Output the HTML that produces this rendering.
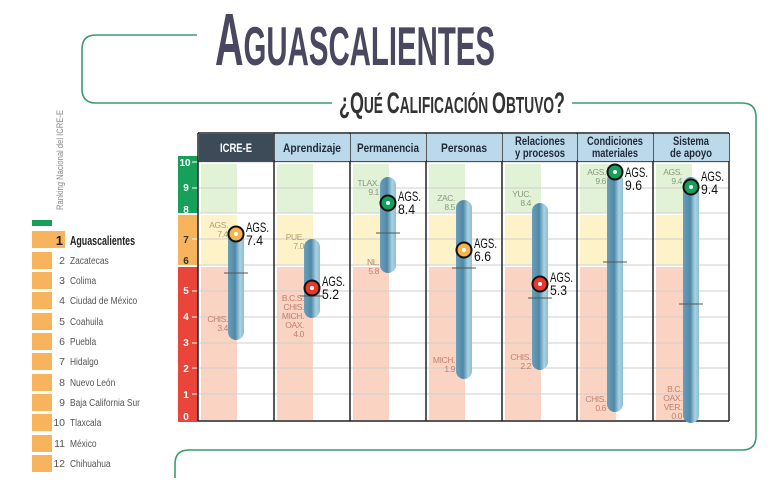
<!DOCTYPE html>
<html><head><meta charset="utf-8"><style>
html,body{margin:0;padding:0;background:#fff;}
svg{display:block;font-family:"Liberation Sans Narrow","Liberation Sans",sans-serif;}
</style></head><body>
<svg width="775" height="494" viewBox="0 0 775 494" xmlns="http://www.w3.org/2000/svg">
<defs>
<linearGradient id="bar" x1="0" x2="1" y1="0" y2="0">
<stop offset="0" stop-color="#6a9fba"/><stop offset="0.45" stop-color="#4f89a8"/><stop offset="0.75" stop-color="#a9d2e2"/><stop offset="1" stop-color="#8dbdd3"/>
</linearGradient>
</defs>
<path d="M197 35 H96 Q82 35 82 49 V89 Q82 103 96 103 H332" fill="none" stroke="#3a9c6a" stroke-width="1.6"/>
<path d="M572 103 H742 Q756 103 756 117 V436 Q756 450 742 450 H189 Q175 450 175 464 V478" fill="none" stroke="#3a9c6a" stroke-width="1.6"/>
<text x="215" y="65" fill="#4a4860" font-weight="bold" textLength="280" lengthAdjust="spacingAndGlyphs"><tspan font-size="74">A</tspan><tspan font-size="55">GUASCALIENTES</tspan></text>
<text x="339" y="113" fill="#333" font-weight="bold" textLength="226" lengthAdjust="spacingAndGlyphs"><tspan font-size="30">¿Q</tspan><tspan font-size="23">UÉ </tspan><tspan font-size="30">C</tspan><tspan font-size="23">ALIFICACIÓN </tspan><tspan font-size="30">O</tspan><tspan font-size="23">BTUVO</tspan><tspan font-size="30">?</tspan></text>
<text transform="translate(63,210) rotate(-90)" font-size="9" fill="#888" textLength="100" lengthAdjust="spacingAndGlyphs">Ranking Nacional del ICRE-E</text>
<rect x="32" y="220" width="20" height="6" fill="#17a05a"/>
<rect x="32" y="231" width="33" height="17" fill="#f7b45c"/>
<text x="63" y="245" font-size="13" font-weight="bold" text-anchor="end" fill="#222">1</text>
<text x="70" y="245" font-size="13" font-weight="bold" fill="#222" textLength="65" lengthAdjust="spacingAndGlyphs">Aguascalientes</text>
<g fill="#f7b45c">
<rect x="32" y="252" width="20" height="17"/><rect x="32" y="272" width="20" height="17"/><rect x="32" y="292" width="20" height="17"/><rect x="32" y="313" width="20" height="17"/><rect x="32" y="333" width="20" height="17"/><rect x="32" y="353" width="20" height="17"/><rect x="32" y="374" width="20" height="17"/><rect x="32" y="394" width="20" height="17"/><rect x="32" y="414" width="20" height="17"/><rect x="32" y="435" width="20" height="17"/><rect x="32" y="455" width="20" height="17"/>
</g>
<g font-size="10.5" fill="#555" text-anchor="end">
<text x="65" y="264">2</text><text x="65" y="284">3</text><text x="65" y="304">4</text><text x="65" y="325">5</text><text x="65" y="345">6</text><text x="65" y="365">7</text><text x="65" y="386">8</text><text x="65" y="406">9</text><text x="65" y="426">10</text><text x="65" y="447">11</text><text x="65" y="467">12</text>
</g>
<g font-size="10.5" fill="#555" transform="translate(70,0) scale(0.8,1)">
<text x="0" y="264">Zacatecas</text><text x="0" y="284">Colima</text><text x="0" y="304">Ciudad de México</text><text x="0" y="325">Coahuila</text><text x="0" y="345">Puebla</text><text x="0" y="365">Hidalgo</text><text x="0" y="386">Nuevo León</text><text x="0" y="406">Baja California Sur</text><text x="0" y="426">Tlaxcala</text><text x="0" y="447">México</text><text x="0" y="467">Chihuahua</text>
</g>
<rect x="178" y="156" width="20" height="57" fill="#17a05a"/>
<rect x="178" y="215" width="20" height="50" fill="#f7b45c"/>
<rect x="178" y="267" width="20" height="155" fill="#e9453a"/>
<g font-size="10" font-weight="bold" text-anchor="middle">
<text x="185" y="166" fill="#fff">10</text><text x="186" y="191" fill="#fff">9</text><text x="186" y="213" fill="#fff">8</text>
<text x="186" y="243" fill="#333">7</text><text x="186" y="264" fill="#333">6</text>
<text x="186" y="294" fill="#fff">5</text><text x="186" y="320" fill="#fff">4</text><text x="186" y="346" fill="#fff">3</text><text x="186" y="372" fill="#fff">2</text><text x="186" y="398" fill="#fff">1</text><text x="186" y="420" fill="#fff">0</text>
</g>
<g stroke="#fff" stroke-width="1"><line x1="192" x2="198" y1="162" y2="162"/><line x1="192" x2="198" y1="188" y2="188"/><line x1="192" x2="198" y1="239" y2="239"/><line x1="192" x2="198" y1="291" y2="291"/><line x1="192" x2="198" y1="317" y2="317"/><line x1="192" x2="198" y1="343" y2="343"/><line x1="192" x2="198" y1="368" y2="368"/><line x1="192" x2="198" y1="394" y2="394"/></g>
<g>
<g id="bands">
<rect x="201" y="164" width="36" height="49" fill="#e2f2d6"/>
<rect x="201" y="215" width="36" height="50" fill="#fdf2c8"/>
<rect x="201" y="267" width="36" height="153" fill="#fbd3c3"/>
</g>
<use href="#bands" x="76"/><use href="#bands" x="152"/><use href="#bands" x="228"/><use href="#bands" x="304"/><use href="#bands" x="379"/><use href="#bands" x="455"/>
</g>
<g stroke="#cfcfcf" stroke-width="1">
<line x1="198" x2="729" y1="162" y2="162"/><line x1="198" x2="729" y1="188" y2="188"/><line x1="198" x2="729" y1="213" y2="213"/><line x1="198" x2="729" y1="239" y2="239"/><line x1="198" x2="729" y1="265" y2="265"/><line x1="198" x2="729" y1="291" y2="291"/><line x1="198" x2="729" y1="317" y2="317"/><line x1="198" x2="729" y1="343" y2="343"/><line x1="198" x2="729" y1="368" y2="368"/><line x1="198" x2="729" y1="394" y2="394"/>
</g>
<g stroke="#222" stroke-width="1.5">
<line x1="198" y1="133" x2="198" y2="421"/><line x1="274" y1="133" x2="274" y2="421"/><line x1="350" y1="133" x2="350" y2="421"/><line x1="426" y1="133" x2="426" y2="421"/><line x1="502" y1="133" x2="502" y2="421"/><line x1="577" y1="133" x2="577" y2="421"/><line x1="653" y1="133" x2="653" y2="421"/><line x1="729" y1="133" x2="729" y2="421"/>
<line x1="198" y1="421" x2="729" y2="421"/><line x1="198" y1="133" x2="729" y2="133"/><line x1="198" y1="161" x2="729" y2="161"/>
</g>
<rect x="199" y="134" width="75" height="27" fill="#3d4a57"/>
<g fill="#bcd9ec"><rect x="275" y="134" width="75" height="27"/><rect x="351" y="134" width="75" height="27"/><rect x="427" y="134" width="75" height="27"/><rect x="503" y="134" width="74" height="27"/><rect x="578" y="134" width="75" height="27"/><rect x="654" y="134" width="75" height="27"/></g>
<g font-size="11.5" font-weight="bold" text-anchor="middle" fill="#1e2a36">
<text x="236" y="152" fill="#fff" textLength="32" lengthAdjust="spacingAndGlyphs">ICRE-E</text>
<text x="312" y="152" textLength="58" lengthAdjust="spacingAndGlyphs">Aprendizaje</text>
<text x="388" y="152" textLength="62" lengthAdjust="spacingAndGlyphs">Permanencia</text>
<text x="464" y="152" textLength="46" lengthAdjust="spacingAndGlyphs">Personas</text>
<text x="540" y="145" textLength="50" lengthAdjust="spacingAndGlyphs">Relaciones</text><text x="540" y="157" textLength="50" lengthAdjust="spacingAndGlyphs">y procesos</text>
<text x="615" y="145" textLength="56" lengthAdjust="spacingAndGlyphs">Condiciones</text><text x="615" y="157" textLength="46" lengthAdjust="spacingAndGlyphs">materiales</text>
<text x="691" y="145" textLength="36" lengthAdjust="spacingAndGlyphs">Sistema</text><text x="691" y="157" textLength="42" lengthAdjust="spacingAndGlyphs">de apoyo</text>
</g>
<g fill="url(#bar)">
<rect x="228" y="229" width="16" height="111" rx="8"/>
<rect x="304" y="239" width="16" height="79" rx="8"/>
<rect x="380" y="177" width="16" height="96" rx="8"/>
<rect x="456" y="200" width="16" height="179" rx="8"/>
<rect x="532" y="203" width="16" height="167" rx="8"/>
<rect x="607" y="172" width="16" height="240" rx="8"/>
<rect x="683" y="177" width="16" height="246" rx="8"/>
</g>
<g stroke="#555" stroke-width="1">
<line x1="224" x2="248" y1="273" y2="273"/><line x1="300" x2="324" y1="296" y2="296"/><line x1="376" x2="400" y1="233" y2="233"/><line x1="452" x2="476" y1="268" y2="268"/><line x1="528" x2="552" y1="298" y2="298"/><line x1="603" x2="627" y1="262" y2="262"/><line x1="679" x2="703" y1="304" y2="304"/>
</g>
<g font-size="8.5" text-anchor="end" letter-spacing="-0.4">
<g fill="#b0a070"><text x="228" y="228">AGS.</text><text x="228" y="237">7.4</text></g>
<g fill="#c08070"><text x="228" y="322">CHIS.</text><text x="228" y="331">3.4</text></g>
<g fill="#b0a070"><text x="304" y="240">PUE.</text><text x="304" y="249">7.0</text></g>
<g fill="#c08070"><text x="304" y="301">B.C.S.</text><text x="304" y="310">CHIS.</text><text x="304" y="319">MICH.</text><text x="304" y="328">OAX.</text><text x="304" y="337">4.0</text></g>
<g fill="#8a9a80"><text x="379" y="186">TLAX.</text><text x="379" y="195">9.1</text></g>
<g fill="#c08070"><text x="379" y="265">NL.</text><text x="379" y="274">5.8</text></g>
<g fill="#8a9a80"><text x="455" y="201">ZAC.</text><text x="455" y="210">8.5</text></g>
<g fill="#c08070"><text x="455" y="363">MICH.</text><text x="455" y="372">1.9</text></g>
<g fill="#8a9a80"><text x="531" y="197">YUC.</text><text x="531" y="206">8.4</text></g>
<g fill="#c08070"><text x="531" y="360">CHIS.</text><text x="531" y="369">2.2</text></g>
<g fill="#8a9a80"><text x="606" y="175">AGS.</text><text x="606" y="184">9.6</text></g>
<g fill="#c08070"><text x="606" y="402">CHIS.</text><text x="606" y="411">0.6</text></g>
<g fill="#8a9a80"><text x="682" y="175">AGS.</text><text x="682" y="184">9.4</text></g>
<g fill="#c08070"><text x="682" y="392">B.C.</text><text x="682" y="401">OAX.</text><text x="682" y="410">VER.</text><text x="682" y="419">0.0</text></g>
</g>
<g stroke="#111" stroke-width="2">
<circle cx="236" cy="234" r="7.5" fill="#f6b44d"/>
<circle cx="312" cy="288" r="7.5" fill="#e8392b"/>
<circle cx="388" cy="203" r="7.5" fill="#14a05a"/>
<circle cx="464" cy="250" r="7.5" fill="#f6b44d"/>
<circle cx="540" cy="284" r="7.5" fill="#e8392b"/>
<circle cx="615" cy="172" r="7.5" fill="#14a05a"/>
<circle cx="691" cy="187" r="7.5" fill="#14a05a"/>
</g>
<g fill="#fff"><circle cx="236" cy="234" r="2"/><circle cx="312" cy="288" r="2"/><circle cx="388" cy="203" r="2"/><circle cx="464" cy="250" r="2"/><circle cx="540" cy="284" r="2"/><circle cx="615" cy="172" r="2"/><circle cx="691" cy="187" r="2"/></g>
<g font-size="14" fill="#111">
<text x="246" y="232" textLength="23" lengthAdjust="spacingAndGlyphs">AGS.</text><text x="246" y="245" textLength="17" lengthAdjust="spacingAndGlyphs">7.4</text>
<text x="322" y="286" textLength="23" lengthAdjust="spacingAndGlyphs">AGS.</text><text x="322" y="299" textLength="17" lengthAdjust="spacingAndGlyphs">5.2</text>
<text x="398" y="201" textLength="23" lengthAdjust="spacingAndGlyphs">AGS.</text><text x="398" y="214" textLength="17" lengthAdjust="spacingAndGlyphs">8.4</text>
<text x="474" y="248" textLength="23" lengthAdjust="spacingAndGlyphs">AGS.</text><text x="474" y="261" textLength="17" lengthAdjust="spacingAndGlyphs">6.6</text>
<text x="550" y="282" textLength="23" lengthAdjust="spacingAndGlyphs">AGS.</text><text x="550" y="295" textLength="17" lengthAdjust="spacingAndGlyphs">5.3</text>
<text x="625" y="177" textLength="23" lengthAdjust="spacingAndGlyphs">AGS.</text><text x="625" y="190" textLength="17" lengthAdjust="spacingAndGlyphs">9.6</text>
<text x="701" y="181" textLength="23" lengthAdjust="spacingAndGlyphs">AGS.</text><text x="701" y="194" textLength="17" lengthAdjust="spacingAndGlyphs">9.4</text>
</g>
</svg>
</body></html>
